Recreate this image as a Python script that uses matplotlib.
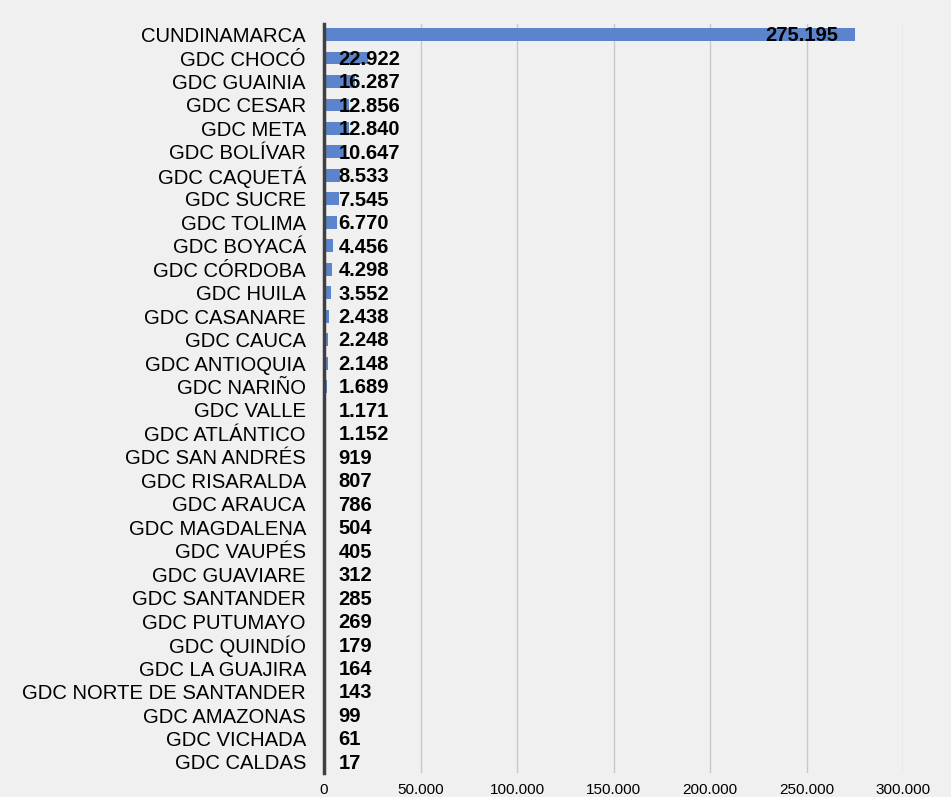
import matplotlib.pyplot as plt
from matplotlib.ticker import FuncFormatter

plt.rcParams['font.family'] = ['Liberation Sans', 'DejaVu Sans']

departments = [
    "CUNDINAMARCA", "GDC CHOCÓ", "GDC GUAINIA", "GDC CESAR", "GDC META",
    "GDC BOLÍVAR", "GDC CAQUETÁ", "GDC SUCRE", "GDC TOLIMA", "GDC BOYACÁ",
    "GDC CÓRDOBA", "GDC HUILA", "GDC CASANARE", "GDC CAUCA", "GDC ANTIOQUIA",
    "GDC NARIÑO", "GDC VALLE", "GDC ATLÁNTICO", "GDC SAN ANDRÉS",
    "GDC RISARALDA", "GDC ARAUCA", "GDC MAGDALENA", "GDC VAUPÉS",
    "GDC GUAVIARE", "GDC SANTANDER", "GDC PUTUMAYO", "GDC QUINDÍO",
    "GDC LA GUAJIRA", "GDC NORTE DE SANTANDER", "GDC AMAZONAS",
    "GDC VICHADA", "GDC CALDAS",
]
values = [
    275195, 22922, 16287, 12856, 12840, 10647, 8533, 7545, 6770, 4456,
    4298, 3552, 2438, 2248, 2148, 1689, 1171, 1152, 919, 807, 786, 504,
    405, 312, 285, 269, 179, 164, 143, 99, 61, 17,
]
x_ticks = [0, 50000, 100000, 150000, 200000, 250000, 300000]


def fmt_thousands(v):
    return f"{int(v):,}".replace(",", ".")


bg = "#f0f0f0"
fig = plt.figure(figsize=(9.51, 7.97), dpi=100, facecolor=bg)
ax = fig.add_axes([324 / 951, 1 - 773 / 797, (903 - 324) / 951, (773 - 24) / 797])
ax.set_facecolor(bg)

pos = list(range(len(values)))
ax.barh(pos, values, height=0.55, color="#5b84cc", zorder=2)
ax.set_ylim(len(values) - 0.53, -0.45)
ax.set_xlim(0, 300000)

ax.set_yticks(pos)
ax.set_yticklabels(departments, fontsize=14.6)
ax.tick_params(axis="y", length=0, pad=13)
ax.set_xticks(x_ticks)
ax.xaxis.set_major_formatter(FuncFormatter(lambda v, p: fmt_thousands(v)))
ax.tick_params(axis="x", length=0, labelsize=11, pad=7)

ax.grid(axis="x", color="#c8c8c8", linewidth=1, zorder=1)
for s in ["top", "right", "bottom"]:
    ax.spines[s].set_visible(False)
ax.spines["left"].set_color("#404040")
ax.spines["left"].set_linewidth(2.5)
ax.spines["left"].set_zorder(3)

for i, v in enumerate(values):
    if v > 100000:
        ax.annotate(fmt_thousands(v), (v, i), xytext=(-12, -1), textcoords="offset points",
                    ha="right", va="center", fontsize=14.5, fontweight="bold", zorder=4)
    else:
        ax.annotate(fmt_thousands(v), (0, i), xytext=(10.5, -1), textcoords="offset points",
                    ha="left", va="center", fontsize=14.5, fontweight="bold", zorder=4)

fig.savefig("out.png", dpi=100, facecolor=bg)
